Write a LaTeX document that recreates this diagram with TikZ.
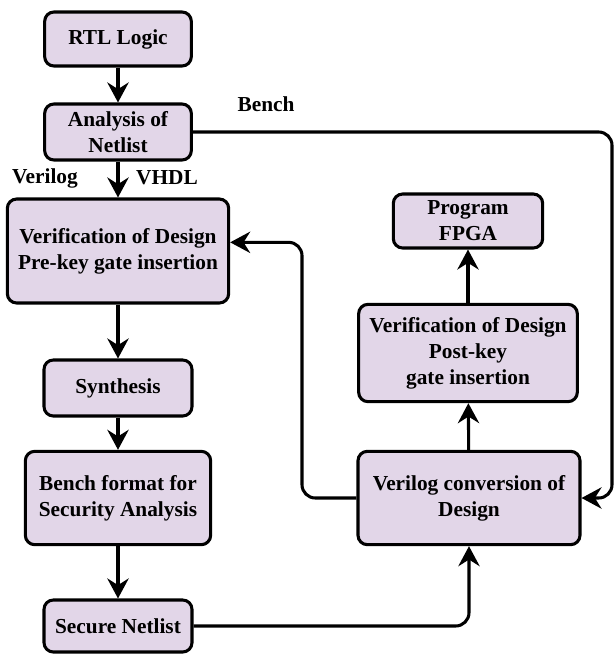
\documentclass[tikz,border=0pt]{standalone}
\usepackage{fontspec}
\setmainfont{Liberation Serif}[BoldFont={Liberation Serif Bold}]
\usetikzlibrary{arrows.meta}

\definecolor{boxfill}{HTML}{E2D6E8}

\tikzset{
  flowbox/.style={draw=black, fill=boxfill, line width=2.3pt, rounded corners=7pt,
    align=center, inner sep=2pt, font=\fontsize{16}{19.5}\selectfont\rmfamily\bfseries},
  lbl/.style={font=\fontsize{16}{19.5}\selectfont\rmfamily\bfseries, inner sep=0pt},
  arr/.style={line width=2.3pt, -{Stealth[length=15pt,width=16pt,inset=5pt]}},
}

\begin{document}
\begin{tikzpicture}[x=0.75pt,y=0.75pt,yscale=-1]
        \useasboundingbox (0,0) rectangle (614,654);

        % left column
        \node[flowbox, minimum width=110pt, minimum height=40.5pt] (rtl) at (118,39) {RTL Logic};
        \node[flowbox, minimum width=110pt, minimum height=42pt] (ana) at (118,132) {Analysis of\\Netlist};
        \node[flowbox, minimum width=166pt, minimum height=78pt] (pre) at (118,251) {Verification of Design\\Pre-key gate insertion};
        \node[flowbox, minimum width=111pt, minimum height=42pt] (syn) at (118,388) {Synthesis};
        \node[flowbox, minimum width=139pt, minimum height=70pt] (bench) at (118,498) {Bench format for\\Security Analysis};
        \node[flowbox, minimum width=111pt, minimum height=39pt] (sec) at (118,626) {Secure Netlist};

        % right column
        \node[flowbox, minimum width=112pt, minimum height=40.5pt] (fpga) at (468,221) {Program\\FPGA};
        \node[flowbox, minimum width=164pt, minimum height=73pt] (post) at (468,353) {Verification of Design\\Post-key\\gate insertion};
        \node[flowbox, minimum width=166.5pt, minimum height=70pt] (conv) at (469,498) {Verilog conversion of\\Design};

        % labels
        \node[lbl] (verilog) at (45,178) {Verilog};
        \node[lbl] (vhdl) at (167,178) {VHDL};
        \node[lbl] (benchlbl) at (266,104) {Bench};

        % helper points
        \coordinate (benchR) at (612,132);
        \coordinate (loopL) at (302,498);
        \coordinate (preIn) at ([yshift=-6.5pt]pre.east);

        % connectors
        \draw[arr] (rtl) -- (ana);
        \draw[arr] (ana) -- (pre);
        \draw[arr] (pre) -- (syn);
        \draw[arr] (syn) -- (bench);
        \draw[arr] (bench) -- (sec);
        \draw[arr, rounded corners=10pt] (ana.east) -- (benchR) |- (conv.east);
        \draw[arr, rounded corners=10pt] (sec.east) -| (conv.south);
        \draw[arr, rounded corners=10pt] (conv.west) -- (loopL) |- (preIn);
        \draw[arr] (conv) -- (post);
        \draw[arr] (post) -- (fpga);

\end{tikzpicture}
\end{document}
